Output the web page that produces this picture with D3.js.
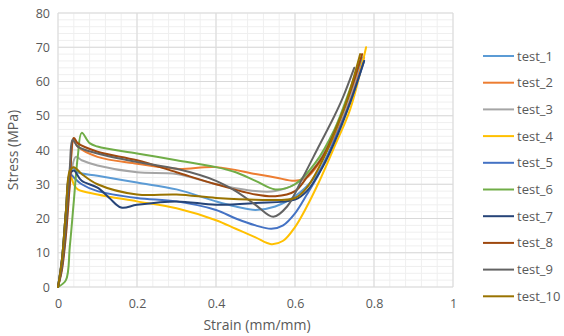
<!DOCTYPE html>
<html><head><meta charset="utf-8">
<script src="https://cdn.jsdelivr.net/npm/d3@7"></script>
<style>body{margin:0;background:#fff}svg{display:block}text{font-family:"Open Sans","Liberation Sans",sans-serif;fill:#595959}</style>
</head><body><svg id="c" width="564" height="336"></svg>
<script>
const names = ["test_1","test_2","test_3","test_4","test_5","test_6","test_7","test_8","test_9","test_10"];
const colors = ["#5B9BD5","#ED7D31","#A5A5A5","#FFC000","#4472C4","#70AD47","#264478","#9E480E","#636363","#997300"];
const strain1 = [0,0.01,0.02,0.03,0.036,0.05,0.1,0.2,0.3,0.4,0.45,0.5,0.55,0.6,0.65,0.69,0.73,0.77];
const stress1 = [0,8,20,32,35,33.5,32.5,30.5,28.5,25,23.5,22.5,23.5,26.5,32,40,52,67];
const strain2 = [0,0.01,0.02,0.03,0.04,0.05,0.1,0.2,0.3,0.4,0.5,0.55,0.6,0.63,0.66,0.7,0.74,0.775];
const stress2 = [0,6,18,33,43,41,38,36,34.5,35,33,32,31,32,36,44,55,67];
const strain3 = [0,0.01,0.02,0.03,0.045,0.06,0.1,0.2,0.3,0.4,0.5,0.55,0.6,0.65,0.7,0.74,0.765];
const stress3 = [0,6,16,30,38,37,35.5,33.5,33,30,28,28,30,35,45,56,66];
const strain4 = [0,0.01,0.02,0.03,0.04,0.05,0.1,0.2,0.3,0.4,0.45,0.5,0.54,0.57,0.6,0.63,0.66,0.7,0.74,0.78];
const stress4 = [0,8,22,33,30,28.5,27,25,23,19.5,17,14.5,12.5,13.5,17.5,23.5,30.5,41,52,70];
const strain5 = [0,0.01,0.02,0.03,0.04,0.06,0.1,0.2,0.3,0.4,0.45,0.5,0.54,0.57,0.6,0.63,0.66,0.7,0.74,0.775];
const stress5 = [0,8,22,33,32,30,28,26,25,22.5,20,18,17,18,21.5,27,33,43,54,66];
const strain6 = [0,0.02,0.03,0.04,0.05,0.06,0.08,0.1,0.2,0.3,0.4,0.45,0.5,0.55,0.6,0.65,0.7,0.74,0.765];
const stress6 = [0,2,12,25,38,45,42,41,39,37,35,33.5,31,28.5,30,36,46,58,66];
const strain7 = [0,0.01,0.02,0.03,0.04,0.06,0.1,0.13,0.16,0.2,0.3,0.4,0.5,0.6,0.63,0.67,0.71,0.74,0.775];
const stress7 = [0,8,22,33,34,31,29,26,23.2,24,25,24,24.5,25.5,28,35,45,54,66];
const strain8 = [0,0.01,0.02,0.03,0.04,0.05,0.1,0.2,0.3,0.4,0.5,0.55,0.6,0.63,0.67,0.71,0.74,0.77];
const stress8 = [0,5,15,30,43.5,42,39.5,37,33.5,30,27,26.5,28,32,38,48,57,68];
const strain9 = [0,0.01,0.02,0.03,0.037,0.05,0.1,0.2,0.3,0.4,0.45,0.5,0.545,0.58,0.62,0.66,0.7,0.72,0.75];
const stress9 = [0,6,18,35,43,41,39,36.5,34.5,31,28,24,20.5,23.5,32,41,50,55,64];
const strain10 = [0,0.01,0.02,0.03,0.04,0.06,0.1,0.2,0.3,0.4,0.5,0.6,0.63,0.67,0.7,0.73,0.765];
const stress10 = [0,8,22,34,35,33,30,27,27,26,25.5,26,29,37,45,54,68];
const xTicks = [0,0.2,0.4,0.6,0.8,1];
const yTicks = [0,10,20,30,40,50,60,70,80];

const strains = [strain1,strain2,strain3,strain4,strain5,strain6,strain7,strain8,strain9,strain10];
const stresses = [stress1,stress2,stress3,stress4,stress5,stress6,stress7,stress8,stress9,stress10];

const svg = d3.select("#c");
const x = d3.scaleLinear().domain([0,1]).range([58,453]);
const y = d3.scaleLinear().domain([0,80]).range([287,13]);

const g = svg.append("g");
d3.range(0,1.0001,0.04).forEach(v=>{
  g.append("line").attr("x1",x(v)).attr("x2",x(v)).attr("y1",y(0)).attr("y2",y(80)).attr("stroke","#efefef").attr("stroke-width",1);
});
d3.range(0,80.001,2).forEach(v=>{
  g.append("line").attr("x1",x(0)).attr("x2",x(1)).attr("y1",y(v)).attr("y2",y(v)).attr("stroke","#efefef").attr("stroke-width",1);
});
xTicks.forEach(v=>{
  g.append("line").attr("x1",x(v)).attr("x2",x(v)).attr("y1",y(0)).attr("y2",y(80)).attr("stroke","#d9d9d9").attr("stroke-width",1);
});
yTicks.forEach(v=>{
  g.append("line").attr("x1",x(0)).attr("x2",x(1)).attr("y1",y(v)).attr("y2",y(v)).attr("stroke","#d9d9d9").attr("stroke-width",1);
});

const ax = svg.append("g").attr("transform",`translate(0,${y(0)})`)
  .call(d3.axisBottom(x).tickValues(xTicks).tickFormat(d=>d===0?"0":(d===1?"1":d3.format(".1f")(d))).tickSize(0).tickPadding(12));
ax.select(".domain").remove();
ax.selectAll("text").attr("font-size",12.5).style("fill","#595959").style("font-family","Open Sans, Liberation Sans, sans-serif");
const ay = svg.append("g").attr("transform",`translate(${x(0)},0)`)
  .call(d3.axisLeft(y).tickValues(yTicks).tickSize(0).tickPadding(8));
ay.select(".domain").remove();
ay.selectAll("text").attr("font-size",12.5).style("fill","#595959").style("font-family","Open Sans, Liberation Sans, sans-serif");

const line = d3.line().x(d=>x(d[0])).y(d=>y(d[1])).curve(d3.curveCatmullRom.alpha(0.5));
names.forEach((n,i)=>{
  const pts = strains[i].map((s,j)=>[s,stresses[i][j]]);
  svg.append("path").attr("d",line(pts)).attr("fill","none").attr("stroke",colors[i]).attr("stroke-width",2).attr("stroke-linejoin","round").attr("stroke-linecap","round");
});

svg.append("text").attr("x",257).attr("y",330).attr("text-anchor","middle").attr("font-size",14).text("Strain (mm/mm)");
svg.append("text").attr("transform","translate(18,150) rotate(-90)").attr("text-anchor","middle").attr("font-size",14).text("Stress (MPa)");

const leg = svg.append("g");
names.forEach((n,i)=>{
  const yy = 56 + i*26.7;
  leg.append("line").attr("x1",483).attr("x2",514).attr("y1",yy).attr("y2",yy).attr("stroke",colors[i]).attr("stroke-width",2);
  leg.append("text").attr("x",517).attr("y",yy+4.5).attr("font-size",13).text(n);
});
</script></body></html>
